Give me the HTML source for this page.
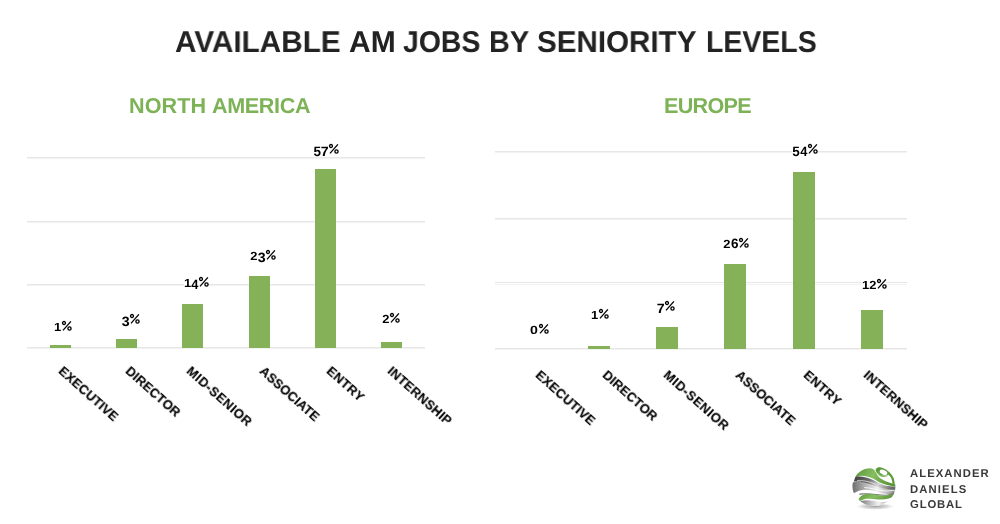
<!DOCTYPE html>
<html><head><meta charset="utf-8"><style>
html,body{margin:0;padding:0;background:#fff;}
body{width:1000px;height:524px;position:relative;overflow:hidden;}
.t{position:absolute;will-change:transform;text-rendering:geometricPrecision;white-space:nowrap;font-family:"Liberation Sans",sans-serif;font-weight:700;line-height:1;}
.ax{transform-origin:0 0;-webkit-text-stroke:0.1px #000;}
.r{position:absolute;}
.pc{display:inline-block;vertical-align:baseline;margin-left:0.6px;overflow:visible;}
.vl{text-align:center;}
.vb{display:inline-block;background:#fff;}
.dg{display:inline-block;position:relative;text-align:center;transform-origin:50% 50%;}
</style></head><body>
<div class="t" style="left:175.41px;top:27.72px;font-size:30px;letter-spacing:0px;color:#222222;transform:scaleX(0.9903);transform-origin:0 0;">AVAILABLE</div>
<div class="t" style="left:349.11px;top:27.72px;font-size:30px;letter-spacing:0px;color:#222222;transform:scaleX(0.9932);transform-origin:0 0;">AM</div>
<div class="t" style="left:403.43px;top:27.72px;font-size:30px;letter-spacing:0px;color:#222222;transform:scaleX(0.9461);transform-origin:0 0;">JOBS</div>
<div class="t" style="left:488.98px;top:27.72px;font-size:30px;letter-spacing:0px;color:#222222;transform:scaleX(0.9615);transform-origin:0 0;">BY</div>
<div class="t" style="left:537.11px;top:27.72px;font-size:30px;letter-spacing:0px;color:#222222;transform:scaleX(0.9863);transform-origin:0 0;">SENIORITY</div>
<div class="t" style="left:705.51px;top:27.72px;font-size:30px;letter-spacing:0px;color:#222222;transform:scaleX(0.9489);transform-origin:0 0;">LEVELS</div>
<div class="t" style="left:129.49px;top:94.63px;font-size:21.6px;letter-spacing:0.1px;color:#7db256;">NORTH</div>
<div class="t" style="left:212.25px;top:94.63px;font-size:21.6px;letter-spacing:-0.38px;color:#7db256;">AMERICA</div>
<div class="t" style="left:664.19px;top:94.63px;font-size:21.6px;letter-spacing:-0.72px;color:#7db256;">EUROPE</div>
<div class="r" style="left:26.50px;top:156.90px;width:398.50px;height:1.2px;background:#e7e7e7"></div>
<div class="r" style="left:26.50px;top:158.15px;width:398.50px;height:1.0px;background:#f2f2f2"></div>
<div class="r" style="left:26.50px;top:221.20px;width:398.50px;height:1.2px;background:#e7e7e7"></div>
<div class="r" style="left:26.50px;top:222.45px;width:398.50px;height:1.0px;background:#f2f2f2"></div>
<div class="r" style="left:26.50px;top:283.80px;width:398.50px;height:1.2px;background:#e7e7e7"></div>
<div class="r" style="left:26.50px;top:285.05px;width:398.50px;height:1.0px;background:#f2f2f2"></div>
<div class="r" style="left:26.50px;top:346.90px;width:398.50px;height:1.2px;background:#e7e7e7"></div>
<div class="r" style="left:26.50px;top:348.15px;width:398.50px;height:1.0px;background:#f2f2f2"></div>
<div class="r" style="left:495.00px;top:151.10px;width:411.50px;height:1.2px;background:#e7e7e7"></div>
<div class="r" style="left:495.00px;top:152.35px;width:411.50px;height:1.0px;background:#f2f2f2"></div>
<div class="r" style="left:495.00px;top:217.90px;width:411.50px;height:1.2px;background:#e7e7e7"></div>
<div class="r" style="left:495.00px;top:219.15px;width:411.50px;height:1.0px;background:#f2f2f2"></div>
<div class="r" style="left:495.00px;top:282.30px;width:411.50px;height:1.2px;background:#e7e7e7"></div>
<div class="r" style="left:495.00px;top:283.55px;width:411.50px;height:1.0px;background:#f2f2f2"></div>
<div class="r" style="left:495.00px;top:347.90px;width:411.50px;height:1.2px;background:#e7e7e7"></div>
<div class="r" style="left:495.00px;top:349.15px;width:411.50px;height:1.0px;background:#f2f2f2"></div>
<div class="r" style="left:49.60px;top:345.00px;width:21.40px;height:3.00px;background:#85b158"></div>
<div class="r" style="left:116.00px;top:338.60px;width:21.20px;height:9.40px;background:#85b158"></div>
<div class="r" style="left:182.00px;top:304.40px;width:21.00px;height:43.60px;background:#85b158"></div>
<div class="r" style="left:248.90px;top:275.70px;width:21.00px;height:72.30px;background:#85b158"></div>
<div class="r" style="left:315.30px;top:168.60px;width:21.00px;height:179.40px;background:#85b158"></div>
<div class="r" style="left:381.30px;top:341.90px;width:21.00px;height:6.10px;background:#85b158"></div>
<div class="r" style="left:587.80px;top:346.00px;width:22.00px;height:3.00px;background:#85b158"></div>
<div class="r" style="left:655.90px;top:326.60px;width:21.70px;height:22.40px;background:#85b158"></div>
<div class="r" style="left:724.30px;top:264.20px;width:21.80px;height:84.80px;background:#85b158"></div>
<div class="r" style="left:793.20px;top:172.20px;width:21.70px;height:176.80px;background:#85b158"></div>
<div class="r" style="left:861.10px;top:309.70px;width:22.10px;height:39.30px;background:#85b158"></div>
<div class="t vl" style="left:32.95px;top:320.00px;width:60px;font-size:13px;color:#000"><span class="vb"><span class="dg" style="width:7.0px;font-size:11.8px;top:0px;transform:scaleX(1.1)">1</span><svg class="pc" width="9.6" height="9.7" viewBox="0 0 9.6 9.7"><circle cx="2.0" cy="2.0" r="1.5" fill="none" stroke="#000" stroke-width="1.3"/><circle cx="7.5" cy="7.55" r="1.6" fill="none" stroke="#000" stroke-width="1.35"/><line x1="8.9" y1="0.4" x2="1.0" y2="9.4" stroke="#000" stroke-width="1.3"/></svg></span></div>
<div class="t vl" style="left:101.30px;top:312.60px;width:60px;font-size:13px;color:#000"><span class="vb"><span class="dg" style="width:7.6px;font-size:13.5px;top:1.9px;transform:scaleX(1.05)">3</span><svg class="pc" width="9.6" height="9.7" viewBox="0 0 9.6 9.7"><circle cx="2.0" cy="2.0" r="1.5" fill="none" stroke="#000" stroke-width="1.3"/><circle cx="7.5" cy="7.55" r="1.6" fill="none" stroke="#000" stroke-width="1.35"/><line x1="8.9" y1="0.4" x2="1.0" y2="9.4" stroke="#000" stroke-width="1.3"/></svg></span></div>
<div class="t vl" style="left:165.70px;top:276.10px;width:60px;font-size:13px;color:#000"><span class="vb"><span class="dg" style="width:7.0px;font-size:11.8px;top:0px;transform:scaleX(1.1)">1</span><span class="dg" style="width:7.8px;font-size:13.5px;top:1.9px;transform:scaleX(0.95)">4</span><svg class="pc" width="9.6" height="9.7" viewBox="0 0 9.6 9.7"><circle cx="2.0" cy="2.0" r="1.5" fill="none" stroke="#000" stroke-width="1.3"/><circle cx="7.5" cy="7.55" r="1.6" fill="none" stroke="#000" stroke-width="1.35"/><line x1="8.9" y1="0.4" x2="1.0" y2="9.4" stroke="#000" stroke-width="1.3"/></svg></span></div>
<div class="t vl" style="left:232.50px;top:248.80px;width:60px;font-size:13px;color:#000"><span class="vb"><span class="dg" style="width:7.6px;font-size:11.8px;top:0px;transform:scaleX(1.1)">2</span><span class="dg" style="width:7.6px;font-size:13.5px;top:1.9px;transform:scaleX(1.05)">3</span><svg class="pc" width="9.6" height="9.7" viewBox="0 0 9.6 9.7"><circle cx="2.0" cy="2.0" r="1.5" fill="none" stroke="#000" stroke-width="1.3"/><circle cx="7.5" cy="7.55" r="1.6" fill="none" stroke="#000" stroke-width="1.35"/><line x1="8.9" y1="0.4" x2="1.0" y2="9.4" stroke="#000" stroke-width="1.3"/></svg></span></div>
<div class="t vl" style="left:296.35px;top:143.10px;width:60px;font-size:13px;color:#000"><span class="vb"><span class="dg" style="width:7.4px;font-size:13.5px;top:1.9px;transform:scaleX(1.0)">5</span><span class="dg" style="width:7.6px;font-size:13.5px;top:1.6px;transform:scaleX(1.05)">7</span><svg class="pc" width="9.6" height="9.7" viewBox="0 0 9.6 9.7"><circle cx="2.0" cy="2.0" r="1.5" fill="none" stroke="#000" stroke-width="1.3"/><circle cx="7.5" cy="7.55" r="1.6" fill="none" stroke="#000" stroke-width="1.35"/><line x1="8.9" y1="0.4" x2="1.0" y2="9.4" stroke="#000" stroke-width="1.3"/></svg></span></div>
<div class="t vl" style="left:360.70px;top:312.00px;width:60px;font-size:13px;color:#000"><span class="vb"><span class="dg" style="width:7.6px;font-size:11.8px;top:0px;transform:scaleX(1.1)">2</span><svg class="pc" width="9.6" height="9.7" viewBox="0 0 9.6 9.7"><circle cx="2.0" cy="2.0" r="1.5" fill="none" stroke="#000" stroke-width="1.3"/><circle cx="7.5" cy="7.55" r="1.6" fill="none" stroke="#000" stroke-width="1.35"/><line x1="8.9" y1="0.4" x2="1.0" y2="9.4" stroke="#000" stroke-width="1.3"/></svg></span></div>
<div class="t vl" style="left:509.00px;top:323.00px;width:60px;font-size:13px;color:#000"><span class="vb"><span class="dg" style="width:8.0px;font-size:11.8px;top:0px;transform:scaleX(1.2)">0</span><svg class="pc" width="9.6" height="9.7" viewBox="0 0 9.6 9.7"><circle cx="2.0" cy="2.0" r="1.5" fill="none" stroke="#000" stroke-width="1.3"/><circle cx="7.5" cy="7.55" r="1.6" fill="none" stroke="#000" stroke-width="1.35"/><line x1="8.9" y1="0.4" x2="1.0" y2="9.4" stroke="#000" stroke-width="1.3"/></svg></span></div>
<div class="t vl" style="left:569.95px;top:308.10px;width:60px;font-size:13px;color:#000"><span class="vb"><span class="dg" style="width:7.0px;font-size:11.8px;top:0px;transform:scaleX(1.1)">1</span><svg class="pc" width="9.6" height="9.7" viewBox="0 0 9.6 9.7"><circle cx="2.0" cy="2.0" r="1.5" fill="none" stroke="#000" stroke-width="1.3"/><circle cx="7.5" cy="7.55" r="1.6" fill="none" stroke="#000" stroke-width="1.35"/><line x1="8.9" y1="0.4" x2="1.0" y2="9.4" stroke="#000" stroke-width="1.3"/></svg></span></div>
<div class="t vl" style="left:635.75px;top:300.20px;width:60px;font-size:13px;color:#000"><span class="vb"><span class="dg" style="width:7.6px;font-size:13.5px;top:1.6px;transform:scaleX(1.05)">7</span><svg class="pc" width="9.6" height="9.7" viewBox="0 0 9.6 9.7"><circle cx="2.0" cy="2.0" r="1.5" fill="none" stroke="#000" stroke-width="1.3"/><circle cx="7.5" cy="7.55" r="1.6" fill="none" stroke="#000" stroke-width="1.35"/><line x1="8.9" y1="0.4" x2="1.0" y2="9.4" stroke="#000" stroke-width="1.3"/></svg></span></div>
<div class="t vl" style="left:706.00px;top:237.10px;width:60px;font-size:13px;color:#000"><span class="vb"><span class="dg" style="width:7.6px;font-size:11.8px;top:0px;transform:scaleX(1.1)">2</span><span class="dg" style="width:7.4px;font-size:13.5px;top:0px;transform:scaleX(1.0)">6</span><svg class="pc" width="9.6" height="9.7" viewBox="0 0 9.6 9.7"><circle cx="2.0" cy="2.0" r="1.5" fill="none" stroke="#000" stroke-width="1.3"/><circle cx="7.5" cy="7.55" r="1.6" fill="none" stroke="#000" stroke-width="1.35"/><line x1="8.9" y1="0.4" x2="1.0" y2="9.4" stroke="#000" stroke-width="1.3"/></svg></span></div>
<div class="t vl" style="left:775.30px;top:142.90px;width:60px;font-size:13px;color:#000"><span class="vb"><span class="dg" style="width:7.4px;font-size:13.5px;top:1.9px;transform:scaleX(1.0)">5</span><span class="dg" style="width:7.8px;font-size:13.5px;top:1.9px;transform:scaleX(0.95)">4</span><svg class="pc" width="9.6" height="9.7" viewBox="0 0 9.6 9.7"><circle cx="2.0" cy="2.0" r="1.5" fill="none" stroke="#000" stroke-width="1.3"/><circle cx="7.5" cy="7.55" r="1.6" fill="none" stroke="#000" stroke-width="1.35"/><line x1="8.9" y1="0.4" x2="1.0" y2="9.4" stroke="#000" stroke-width="1.3"/></svg></span></div>
<div class="t vl" style="left:844.30px;top:277.90px;width:60px;font-size:13px;color:#000"><span class="vb"><span class="dg" style="width:7.0px;font-size:11.8px;top:0px;transform:scaleX(1.1)">1</span><span class="dg" style="width:7.6px;font-size:11.8px;top:0px;transform:scaleX(1.1)">2</span><svg class="pc" width="9.6" height="9.7" viewBox="0 0 9.6 9.7"><circle cx="2.0" cy="2.0" r="1.5" fill="none" stroke="#000" stroke-width="1.3"/><circle cx="7.5" cy="7.55" r="1.6" fill="none" stroke="#000" stroke-width="1.35"/><line x1="8.9" y1="0.4" x2="1.0" y2="9.4" stroke="#000" stroke-width="1.3"/></svg></span></div>
<div class="t ax" style="left:64.99px;top:363.57px;font-size:13px;letter-spacing:0.12px;color:#000;transform:rotate(41.7deg)">EXECUTIVE</div>
<div class="t ax" style="left:132.29px;top:363.57px;font-size:13px;letter-spacing:0.08px;color:#000;transform:rotate(41.7deg)">DIRECTOR</div>
<div class="t ax" style="left:193.29px;top:363.57px;font-size:13px;letter-spacing:0.47px;color:#000;transform:rotate(41.7deg)">MID-SENIOR</div>
<div class="t ax" style="left:265.74px;top:363.97px;font-size:13px;letter-spacing:0.0px;color:#000;transform:rotate(41.7deg)">ASSOCIATE</div>
<div class="t ax" style="left:333.19px;top:363.57px;font-size:13px;letter-spacing:0.37px;color:#000;transform:rotate(41.7deg)">ENTRY</div>
<div class="t ax" style="left:393.99px;top:363.57px;font-size:13px;letter-spacing:0.22px;color:#000;transform:rotate(41.7deg)">INTERNSHIP</div>
<div class="t ax" style="left:541.69px;top:367.87px;font-size:13px;letter-spacing:0.12px;color:#000;transform:rotate(41.7deg)">EXECUTIVE</div>
<div class="t ax" style="left:608.89px;top:367.87px;font-size:13px;letter-spacing:0.08px;color:#000;transform:rotate(41.7deg)">DIRECTOR</div>
<div class="t ax" style="left:670.29px;top:367.87px;font-size:13px;letter-spacing:0.47px;color:#000;transform:rotate(41.7deg)">MID-SENIOR</div>
<div class="t ax" style="left:742.34px;top:368.27px;font-size:13px;letter-spacing:0.0px;color:#000;transform:rotate(41.7deg)">ASSOCIATE</div>
<div class="t ax" style="left:809.99px;top:367.87px;font-size:13px;letter-spacing:0.37px;color:#000;transform:rotate(41.7deg)">ENTRY</div>
<div class="t ax" style="left:870.29px;top:367.87px;font-size:13px;letter-spacing:0.22px;color:#000;transform:rotate(41.7deg)">INTERNSHIP</div>
<div class="t" style="left:909.60px;top:469.44px;font-size:11.3px;letter-spacing:1.06px;color:#3a3a3a;">ALEXANDER</div>
<div class="t" style="left:909.60px;top:484.64px;font-size:11.3px;letter-spacing:1.1px;color:#3a3a3a;">DANIELS</div>
<div class="t" style="left:909.60px;top:499.64px;font-size:11.3px;letter-spacing:0.85px;color:#3a3a3a;">GLOBAL</div>
<svg width="54" height="50" viewBox="0 0 566 524" style="position:absolute;left:848px;top:462px">
<defs>
<linearGradient id="gs1" x1="0" y1="0" x2="1" y2="0.2"><stop offset="0" stop-color="#3c3c3c"/><stop offset="0.4" stop-color="#6e6e6e"/><stop offset="0.65" stop-color="#d8d8d8"/><stop offset="1" stop-color="#6a6a6a"/></linearGradient>
<linearGradient id="gs2" x1="0" y1="0" x2="1" y2="0"><stop offset="0" stop-color="#6a6a6a"/><stop offset="0.25" stop-color="#a8a8a8"/><stop offset="0.55" stop-color="#f2f2f2"/><stop offset="1" stop-color="#7a7a7a"/></linearGradient>
<linearGradient id="gg" x1="0" y1="0" x2="1" y2="0.3"><stop offset="0" stop-color="#5a9638"/><stop offset="0.5" stop-color="#88be62"/><stop offset="1" stop-color="#5a9538"/></linearGradient>
<radialGradient id="shd" cx="0.5" cy="0.5" r="0.5"><stop offset="0" stop-color="#a0a0a0"/><stop offset="0.6" stop-color="#cacaca" stop-opacity="0.7"/><stop offset="1" stop-color="#fff" stop-opacity="0"/></radialGradient>
<clipPath id="sph"><ellipse cx="272" cy="252" rx="226" ry="208"/></clipPath>
</defs>
<ellipse cx="285" cy="465" rx="220" ry="40" fill="url(#shd)"/>
<g clip-path="url(#sph)">
<path d="M40 215 C140 190 230 208 310 246 C380 278 440 288 520 284 L520 335 C430 345 360 335 290 310 C210 282 130 278 40 340 Z" fill="url(#gs2)"/>
<path d="M170 268 C240 268 300 295 380 303 C420 307 460 300 500 292" fill="none" stroke="#fff" stroke-width="10" opacity="0.9"/>
<path d="M80 150 C160 145 240 170 320 218 C380 250 430 258 520 258 L520 290 C430 295 350 278 280 250 C200 218 130 200 60 205 Z" fill="url(#gs1)"/>
<path d="M95 196 C160 190 230 205 290 235" fill="none" stroke="#fff" stroke-width="7"/>
<path d="M85 140 C120 95 175 66 232 66 C272 68 290 98 305 130 C330 178 400 212 500 232 L500 256 C400 246 340 222 298 194 C240 160 170 132 85 152 Z" fill="url(#gg)"/>
<path d="M288 80 C300 48 372 38 425 66 C472 96 492 165 488 245 L466 240 C466 185 452 148 420 130 C380 155 320 140 300 110 Z" fill="#5d9a3c"/>
<ellipse cx="372" cy="108" rx="42" ry="24" transform="rotate(22 372 108)" fill="#fff"/>
<path d="M318 92 C325 135 370 155 425 140 C395 168 335 162 310 122 Z" fill="#7fb75a"/>
<path d="M120 330 C220 318 320 340 400 342 C440 342 470 330 500 318 L500 336 C460 350 420 356 380 354 C300 350 210 335 120 345 Z" fill="#5a5a5a" opacity="0.8"/>
<path d="M110 398 C125 345 190 322 255 336 C320 350 400 370 500 325 L500 352 C440 390 380 398 310 392 C235 385 180 372 128 412 Z" fill="url(#gg)"/>
<path d="M132 412 C190 388 262 405 340 418 C400 426 452 410 500 358 L500 520 L100 520 Z" fill="url(#gs2)"/>
<path d="M165 442 C240 462 320 468 420 442" fill="none" stroke="#fff" stroke-width="6" opacity="0.5"/>
</g>
</svg>
</body></html>
